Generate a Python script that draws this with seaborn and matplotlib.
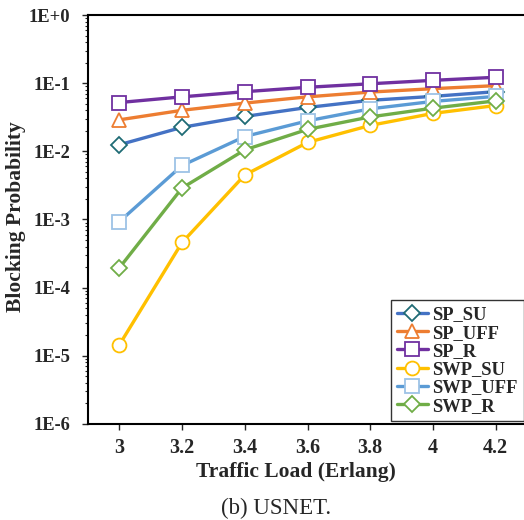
import pandas as pd
import matplotlib.pyplot as plt
import seaborn as sns

# --- datos (USNET) ---
carga = [3.0, 3.2, 3.4, 3.6, 3.8, 4.0, 4.2]
sp_su = [0.0125, 0.0225, 0.0325, 0.044, 0.056, 0.064, 0.075]
sp_uff = [0.029, 0.040, 0.051, 0.063, 0.074, 0.083, 0.092]
sp_r = [0.052, 0.063, 0.075, 0.087, 0.098, 0.110, 0.122]
swp_su = [1.45e-5, 4.6e-4, 4.5e-3, 0.0135, 0.024, 0.036, 0.047]
swp_uff = [9.3e-4, 6.2e-3, 0.0165, 0.028, 0.042, 0.054, 0.064]
swp_r = [1.95e-4, 2.9e-3, 0.0105, 0.021, 0.032, 0.043, 0.055]

series = {
    'SP_SU': sp_su, 'SP_UFF': sp_uff, 'SP_R': sp_r,
    'SWP_SU': swp_su, 'SWP_UFF': swp_uff, 'SWP_R': swp_r,
}
# (color línea, marcador, color borde marcador, tamaño)
estilos = {
    'SP_SU': ('#4472C4', 'D', '#1F6B75', 8),
    'SP_UFF': ('#ED7D31', '^', '#ED7D31', 10),
    'SP_R': ('#7030A0', 's', '#7030A0', 10),
    'SWP_SU': ('#FFC000', 'o', '#FFC000', 10),
    'SWP_UFF': ('#5B9BD5', 's', '#9DC3E6', 10),
    'SWP_R': ('#70AD47', 'D', '#70AD47', 8),
}

df = pd.DataFrame([
    {'Carga': x, 'Prob': v, 'Serie': k}
    for k, vals in series.items() for x, v in zip(carga, vals)
])

sns.set_style('ticks')
plt.rcParams['font.family'] = ['Liberation Serif', 'DejaVu Serif']
plt.rcParams['font.weight'] = 'bold'

fig = plt.figure(figsize=(5.24, 5.2), dpi=100)
ax = fig.add_axes([88 / 524, 1 - 424 / 520, 439 / 524, 409 / 520])

for nombre in series:
    col, mk, edge, ms = estilos[nombre]
    sns.lineplot(data=df[df['Serie'] == nombre], x='Carga', y='Prob', ax=ax,
                 color=col, marker=mk, markersize=ms, markerfacecolor='white',
                 markeredgecolor=edge, markeredgewidth=1.3, linewidth=2.4,
                 label=nombre, zorder=3)

ax.set_yscale('log')
ax.set_ylim(1e-6, 1)
ax.set_xlim(2.9, 4.3)
ax.set_xticks(carga)
ax.set_xticklabels(['3', '3.2', '3.4', '3.6', '3.8', '4', '4.2'])
ax.set_yticks([1e-6, 1e-5, 1e-4, 1e-3, 1e-2, 1e-1, 1])
ax.set_yticklabels(['1E-6', '1E-5', '1E-4', '1E-3', '1E-2', '1E-1', '1E+0'])
ax.tick_params(axis='x', labelsize=14.5, width=1, length=4, direction='out', pad=6)
ax.tick_params(axis='y', labelsize=13.3, width=1, length=4, direction='out', pad=9)
ax.tick_params(axis='y', which='minor', length=2.5, width=0.8)
for lab in ax.get_xticklabels() + ax.get_yticklabels():
    lab.set_fontweight('bold')
for s in ax.spines.values():
    s.set_linewidth(1.5)
    s.set_color('black')

ax.set_xlabel('Traffic Load (Erlang)', fontsize=15.5, fontweight='bold')
ax.set_ylabel('Blocking Probability', fontsize=15.5, fontweight='bold')
# posición de las etiquetas como en la figura original
ax.xaxis.set_label_coords(0.474, -0.094)
ax.yaxis.set_label_coords(-0.141, 0.508)

leg = ax.legend(loc='lower right', bbox_to_anchor=(1.0, 0.0), fontsize=13.3,
                frameon=True, fancybox=False, edgecolor='black',
                borderpad=0.35, labelspacing=0.07, handlelength=1.65,
                handletextpad=0.25, borderaxespad=0.15)
leg.get_frame().set_linewidth(1.0)
for t in leg.get_texts():
    t.set_fontweight('bold')

fig.text(276 / 524, 1 - 508 / 520, '(b) USNET.', ha='center', va='center',
         fontsize=16.5, fontweight='normal')

plt.savefig('out.png', dpi=100)
